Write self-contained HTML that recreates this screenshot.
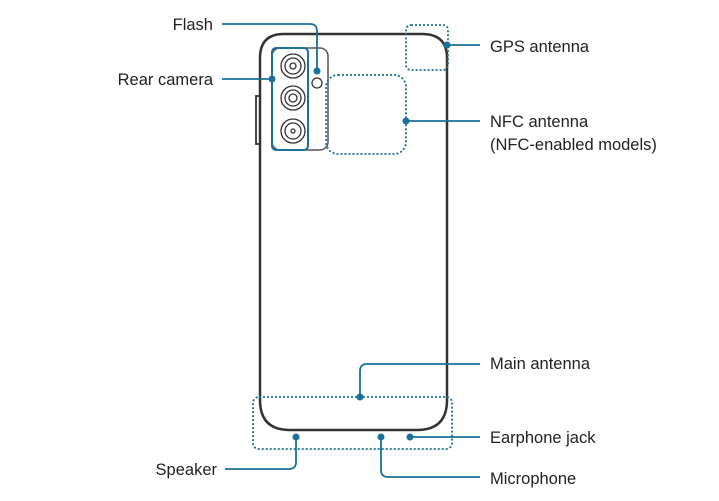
<!DOCTYPE html>
<html><head><style>
body{margin:0;background:#fff;}
svg{display:block}
text{font-family:"Liberation Sans",sans-serif;font-size:16.5px;fill:#231f20}
</style></head><body>
<svg width="719" height="501" viewBox="0 0 719 501">
<g fill="none" stroke="#333" stroke-width="2.5">
<path d="M260 400 V58 Q260 34 284 34 H422 Q447 34 447 58 V400 Q447 430 417 430 H290 Q260 430 260 400 Z"/>
</g>
<rect x="256" y="96" width="4" height="48" fill="none" stroke="#333" stroke-width="1.8"/>
<rect x="272" y="48" width="56" height="102" rx="8" fill="none" stroke="#555" stroke-width="1.5"/>
<rect x="272" y="48" width="36" height="102" rx="4" fill="none" stroke="#1a7199" stroke-width="2"/>
<g fill="none" stroke="#333" stroke-width="1.3">
<circle cx="293" cy="66" r="12"/><circle cx="293" cy="66" r="8"/><circle cx="293" cy="66" r="3"/>
<circle cx="293" cy="98" r="12"/><circle cx="293" cy="98" r="8"/><circle cx="293" cy="98" r="4"/>
<circle cx="293" cy="131" r="12"/><circle cx="293" cy="131" r="8"/><circle cx="293" cy="131" r="2"/>
<circle cx="317" cy="83" r="5"/>
</g>
<g fill="none" stroke="#1a7199" stroke-width="1.8" stroke-dasharray="2 2">
<rect x="406" y="25" width="42" height="45" rx="5"/>
<rect x="326" y="75" width="80" height="79" rx="12"/>
<rect x="253" y="397" width="199" height="52" rx="6"/>
</g>
<g fill="none" stroke="#1a7199" stroke-width="1.8">
<path d="M222 24 H310 Q317 24 317 31 V71"/>
<path d="M222 79 H272"/>
<path d="M447 45 H480"/>
<path d="M406 121 H480"/>
<path d="M360 397 V371 Q360 364 367 364 H480"/>
<path d="M410 437 H480"/>
<path d="M296 437 V462 Q296 469 289 469 H225"/>
<path d="M381 437 V470 Q381 477 388 477 H480"/>
</g>
<g fill="#1a7199">
<circle cx="317" cy="71" r="3.5"/><circle cx="272" cy="79" r="3.5"/>
<circle cx="447" cy="45" r="3.5"/><circle cx="406" cy="121" r="3.5"/>
<circle cx="360" cy="397" r="3.5"/><circle cx="410" cy="437" r="3.5"/>
<circle cx="296" cy="437" r="3.5"/><circle cx="381" cy="437" r="3.5"/>
</g>
<text x="213" y="30" text-anchor="end">Flash</text>
<text x="213" y="85" text-anchor="end">Rear camera</text>
<text x="490" y="52">GPS antenna</text>
<text x="490" y="127">NFC antenna</text>
<text x="490" y="150">(NFC-enabled models)</text>
<text x="490" y="369">Main antenna</text>
<text x="490" y="443">Earphone jack</text>
<text x="490" y="484">Microphone</text>
<text x="217" y="475" text-anchor="end">Speaker</text>
</svg>
</body></html>
